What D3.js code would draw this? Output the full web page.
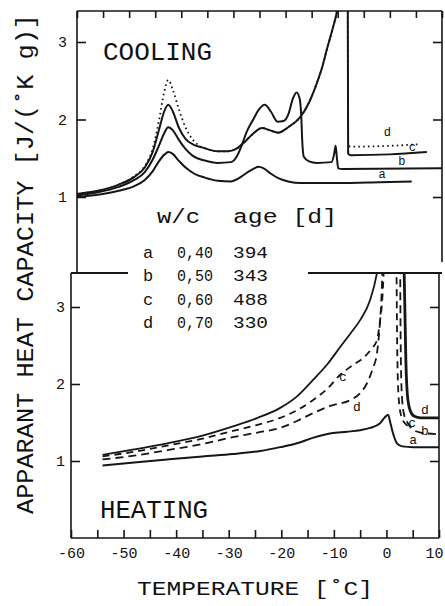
<!DOCTYPE html>
<html>
<head>
<meta charset="utf-8">
<script src="https://cdn.jsdelivr.net/npm/d3@7"></script>
<style>
  html, body { margin: 0; padding: 0; background: #fff; }
  svg { display: block; }
  text { fill: #111; }
</style>
</head>
<body>
<svg id="chart" width="445" height="606"></svg>
<script>
// ---------------- DATA ----------------
// Temperature axis ticks
const xTickValues = [-60, -55, -50, -45, -40, -35, -30, -25, -20, -15, -10, -5, 0, 5, 10];
const xTickLabels = ["-60", "-50", "-40", "-30", "-20", "-10", "0", "10"];
const yTickValues = [1, 2, 3];

// COOLING curves: [temperature °C, apparent heat capacity J/(K g)]
const coolA = [[-60,1.00],[-56,1.03],[-52,1.08],[-49,1.14],[-47,1.22],[-45.5,1.33],[-44.3,1.46],[-43.2,1.55],[-42.5,1.58],[-41.7,1.56],[-40.5,1.47],[-39,1.37],[-37.5,1.30],[-35.5,1.25],[-33,1.21],[-30.5,1.20],[-29,1.24],[-27.5,1.31],[-26,1.37],[-25.2,1.39],[-24.2,1.37],[-22.8,1.30],[-21.3,1.24],[-19.5,1.20],[-17,1.18],[-10,1.18],[-2,1.19],[4.2,1.20]];
const coolB = [[-60,1.02],[-56,1.06],[-52,1.13],[-49,1.22],[-47,1.32],[-45.5,1.48],[-44.3,1.66],[-43.3,1.82],[-42.5,1.90],[-41.6,1.86],[-40.5,1.74],[-39.2,1.62],[-37.8,1.53],[-35.5,1.47],[-33,1.44],[-30.5,1.45],[-29.3,1.53],[-28.4,1.67],[-27.4,1.85],[-26.2,2.00],[-25.2,2.12],[-24,2.19],[-22.8,2.10],[-21.5,1.97],[-20.4,1.98],[-19.4,2.08],[-18.6,2.27],[-17.9,2.35],[-17.3,2.27],[-17.0,2.05],[-16.8,1.72],[-16.5,1.52],[-15.5,1.46],[-14,1.44],[-11.2,1.45],[-10.7,1.55],[-10.4,1.66],[-10.15,1.50],[-9.9,1.37],[-9,1.36],[10,1.37]];
const coolC = [[-60,1.04],[-56,1.08],[-52,1.16],[-49,1.26],[-47,1.38],[-45.5,1.58],[-44.3,1.86],[-43.3,2.10],[-42.5,2.19],[-41.6,2.10],[-40.5,1.90],[-39.2,1.75],[-37.8,1.68],[-36,1.64],[-33,1.59],[-31,1.59],[-29.5,1.62],[-28,1.70],[-26.5,1.80],[-24.5,1.89],[-23,1.86],[-21.4,1.83],[-19.5,1.90],[-17.2,2.03],[-15.5,2.22],[-14,2.47],[-13,2.67],[-12.1,2.90],[-10.9,3.19],[-10.1,3.41],[-9.3,3.80],[-8.1,4.30],[-8.0,1.56],[-7.5,1.54],[0,1.55],[7.1,1.58]];
const coolD = [[-60,1.04],[-56,1.08],[-52,1.16],[-49,1.27],[-47,1.40],[-45.5,1.62],[-44.3,1.98],[-43.3,2.35],[-42.5,2.51],[-41.6,2.38],[-40.5,2.14],[-39.2,1.90],[-37.8,1.74],[-36.5,1.66],[-35,1.62],[-33,1.59],[-31,1.59],[-29.5,1.62],[-28,1.70],[-26.5,1.80],[-24.5,1.89],[-23,1.86],[-21.4,1.83],[-19.5,1.90],[-17.2,2.03],[-15.5,2.22],[-14,2.47],[-13,2.67],[-12.1,2.90],[-10.9,3.19],[-10.1,3.41],[-9.3,3.80],[-8.1,4.30],[-8.0,1.66],[-7.5,1.65],[0,1.66],[5.4,1.68]];

// HEATING curves (left branch up to melting peak, right branch after it)
const heatSolidUpper  = [[-54,1.08],[-48,1.15],[-41.7,1.23],[-35,1.33],[-29.2,1.45],[-24.5,1.56],[-20.2,1.69],[-17,1.84],[-14,2.05],[-11.2,2.26],[-8.8,2.48],[-6.8,2.66],[-5,2.83],[-3.1,3.09],[-1.8,3.44],[-1.2,3.70]];
const heatSolidUpperR = [[3.3,3.70],[3.5,3.00],[3.7,2.30],[4.0,1.85],[4.5,1.66],[5.3,1.58],[6.5,1.56],[10,1.56]];
const heatDashC  = [[-54,1.06],[-48,1.12],[-41.7,1.20],[-35,1.29],[-29.2,1.39],[-24.5,1.47],[-20.2,1.56],[-17,1.66],[-14,1.79],[-11.2,1.94],[-8.8,2.12],[-6.5,2.24],[-4.4,2.34],[-2.8,2.46],[-1.8,2.57],[-1.2,2.83],[-0.8,3.09],[-0.5,3.50],[-0.4,3.70]];
const heatDashCR = [[1.9,3.70],[2.0,2.80],[2.2,2.00],[2.5,1.70],[3.0,1.55],[3.8,1.47],[4.6,1.43]];
const heatDashD  = [[-54,1.02],[-48,1.07],[-41.7,1.14],[-35,1.22],[-29.2,1.31],[-24.5,1.37],[-20.2,1.43],[-17,1.52],[-14,1.62],[-10.5,1.72],[-6.9,1.79],[-5,1.88],[-3.7,2.01],[-2.6,2.20],[-1.8,2.40],[-1.2,2.83],[-0.9,3.20],[-0.7,3.70]];
const heatDashDR = [[2.6,3.70],[2.7,2.60],[2.9,1.90],[3.3,1.62],[4.0,1.50],[5.0,1.41],[6.5,1.37],[9.5,1.35]];
const heatSolidA = [[-54,0.94],[-48,0.98],[-41.7,1.02],[-35,1.06],[-29.2,1.09],[-24,1.13],[-20.2,1.18],[-17,1.23],[-14,1.30],[-10.5,1.36],[-7.5,1.38],[-5,1.40],[-3.1,1.43],[-1.2,1.49],[-0.4,1.56],[0.3,1.60],[0.8,1.48],[1.25,1.36],[2.0,1.23],[3.0,1.19],[5.1,1.18],[10,1.18]];

// Legend table
const legendLetters = ["a", "b", "c", "d"];
const legendWC = ["0,40", "0,50", "0,60", "0,70"];
const legendAge = ["394", "343", "488", "330"];

// Curve labels [T, value, letter]
const coolLabels = [[-0.5,1.83,"d"],[4.3,1.63,"c"],[2.3,1.45,"b"],[-1.5,1.28,"a"]];
const heatLabels = [[-8.3,2.08,"c"],[-5.6,1.70,"d"],[7.3,1.66,"d"],[4.9,1.49,"c"],[7.3,1.38,"b"],[5.1,1.27,"a"]];

// ---------------- DRAW ----------------
const svg = d3.select("#chart");
const ink = "#161616";
const mono = "'Liberation Mono', 'DejaVu Sans Mono', monospace";

const xTop = d3.scaleLinear().domain([-60, 10]).range([77, 442]);
const xBot = d3.scaleLinear().domain([-60, 10]).range([71, 439]);
const yTop = d3.scaleLinear().domain([1, 3]).range([197, 42]);
const yBot = d3.scaleLinear().domain([0, 3]).range([538, 307]);

const topY = 11, sepY = 273, botY = 538;

// clip paths
const defs = svg.append("defs");
defs.append("clipPath").attr("id", "clipTop").append("rect")
  .attr("x", xTop(-60)).attr("y", topY).attr("width", xTop(10) - xTop(-60)).attr("height", sepY - topY);
defs.append("clipPath").attr("id", "clipBot").append("rect")
  .attr("x", xBot(-60)).attr("y", sepY).attr("width", xBot(10) - xBot(-60)).attr("height", botY - sepY);

// frame lines
const frame = svg.append("g").attr("stroke", ink).attr("stroke-width", 1.6).attr("fill", "none");
frame.append("line").attr("x1", xTop(-60)).attr("x2", xTop(10)).attr("y1", topY).attr("y2", topY);
frame.append("line").attr("x1", xTop(-60)).attr("x2", xTop(-60)).attr("y1", topY).attr("y2", sepY);
frame.append("line").attr("x1", xTop(10)).attr("x2", xTop(10)).attr("y1", topY).attr("y2", 262);
frame.append("line").attr("x1", xBot(-60)).attr("x2", xBot(-60)).attr("y1", sepY).attr("y2", botY);
frame.append("line").attr("x1", xBot(-60)).attr("x2", xBot(10)).attr("y1", botY).attr("y2", botY);
frame.append("line").attr("x1", xBot(10)).attr("x2", xBot(10)).attr("y1", sepY).attr("y2", botY);
// separator broken around legend
frame.append("line").attr("x1", xBot(-60)).attr("x2", 128).attr("y1", sepY).attr("y2", sepY).attr("stroke-width", 2);
frame.append("line").attr("x1", 308).attr("x2", xTop(10)).attr("y1", sepY).attr("y2", sepY).attr("stroke-width", 2);

function styleAxis(g) {
  g.select(".domain").remove();
  g.selectAll(".tick line").attr("stroke", ink).attr("stroke-width", 1.6);
  g.selectAll(".tick text").attr("font-family", mono).attr("font-size", 15).attr("fill", ink);
}

// top ticks (cooling panel)
svg.append("g").attr("transform", `translate(0,${topY})`)
  .call(d3.axisTop(xTop).tickValues(xTickValues).tickSize(-7).tickFormat(""))
  .call(styleAxis);
// bottom axis
const bottomAxis = svg.append("g").attr("transform", `translate(0,${botY})`)
  .call(d3.axisBottom(xBot).tickValues(xTickValues).tickSize(-8).tickPadding(9)
    .tickFormat(d => xTickLabels.includes(String(d)) ? String(d) : ""))
  .call(styleAxis);
// keep the last label ("10") inside the window
bottomAxis.selectAll(".tick").filter(d => d === 10).select("text")
  .attr("text-anchor", "end").attr("dx", 4);
// left / right axes
svg.append("g").attr("transform", `translate(${xTop(-60)},0)`)
  .call(d3.axisLeft(yTop).tickValues(yTickValues).tickSize(-9).tickPadding(10).tickFormat(d3.format("d")))
  .call(styleAxis);
svg.append("g").attr("transform", `translate(${xTop(10)},0)`)
  .call(d3.axisRight(yTop).tickValues(yTickValues).tickSize(-9).tickFormat(""))
  .call(styleAxis);
svg.append("g").attr("transform", `translate(${xBot(-60)},0)`)
  .call(d3.axisLeft(yBot).tickValues(yTickValues).tickSize(-9).tickPadding(6).tickFormat(d3.format("d")))
  .call(styleAxis);
svg.append("g").attr("transform", `translate(${xBot(10)},0)`)
  .call(d3.axisRight(yBot).tickValues(yTickValues).tickSize(-9).tickFormat(""))
  .call(styleAxis);

// curves
const lineTop = d3.line().x(d => xTop(d[0])).y(d => yTop(d[1])).curve(d3.curveMonotoneX);
const lineBot = d3.line().x(d => xBot(d[0])).y(d => yBot(d[1])).curve(d3.curveMonotoneX);

const gTop = svg.append("g").attr("clip-path", "url(#clipTop)").attr("fill", "none").attr("stroke", ink);
gTop.append("path").attr("d", lineTop(coolA)).attr("stroke-width", 2);
gTop.append("path").attr("d", lineTop(coolB)).attr("stroke-width", 2);
gTop.append("path").attr("d", lineTop(coolC)).attr("stroke-width", 2);
gTop.append("path").attr("d", lineTop(coolD)).attr("stroke-width", 1.8)
  .attr("stroke-dasharray", "1.6,3.2");

const gBot = svg.append("g").attr("clip-path", "url(#clipBot)").attr("fill", "none").attr("stroke", ink);
gBot.append("path").attr("d", lineBot(heatSolidUpper)).attr("stroke-width", 1.8);
gBot.append("path").attr("d", lineBot(heatSolidUpperR)).attr("stroke-width", 2.8);
gBot.append("path").attr("d", lineBot(heatDashC)).attr("stroke-width", 1.8).attr("stroke-dasharray", "7,5");
gBot.append("path").attr("d", lineBot(heatDashCR)).attr("stroke-width", 1.8).attr("stroke-dasharray", "7,5");
gBot.append("path").attr("d", lineBot(heatDashD)).attr("stroke-width", 1.8).attr("stroke-dasharray", "8,5");
gBot.append("path").attr("d", lineBot(heatDashDR)).attr("stroke-width", 1.8).attr("stroke-dasharray", "8,5");
gBot.append("path").attr("d", lineBot(heatSolidA)).attr("stroke-width", 2);

// curve letter labels
svg.append("g").selectAll("text").data(coolLabels).join("text")
  .attr("x", d => xTop(d[0])).attr("y", d => yTop(d[1]))
  .attr("text-anchor", "middle").attr("dominant-baseline", "middle")
  .attr("font-family", mono).attr("font-size", 12)
  .text(d => d[2]);
svg.append("g").selectAll("text").data(heatLabels).join("text")
  .attr("x", d => xBot(d[0])).attr("y", d => yBot(d[1]))
  .attr("text-anchor", "middle").attr("dominant-baseline", "middle")
  .attr("font-family", mono).attr("font-size", 13)
  .text(d => d[2]);

// panel titles
svg.append("text").attr("x", 103).attr("y", 60).attr("font-family", mono).attr("font-size", 26)
  .attr("textLength", 109).attr("lengthAdjust", "spacingAndGlyphs").text("COOLING");
svg.append("text").attr("x", 100).attr("y", 518).attr("font-family", mono).attr("font-size", 26)
  .attr("textLength", 108).attr("lengthAdjust", "spacingAndGlyphs").text("HEATING");

// axis titles
svg.append("text").attr("x", 137).attr("y", 595).attr("font-family", mono).attr("font-size", 20)
  .attr("textLength", 236).attr("lengthAdjust", "spacingAndGlyphs").text("TEMPERATURE [˚C]");
svg.append("text").attr("transform", "translate(33,264) rotate(-90)")
  .attr("text-anchor", "middle").attr("font-family", mono).attr("font-size", 24)
  .attr("textLength", 500).attr("lengthAdjust", "spacingAndGlyphs")
  .text("APPARANT HEAT CAPACITY [J/(˚K g)]");

// legend table
const leg = svg.append("g").attr("font-family", mono).attr("fill", ink);
leg.append("text").attr("x", 157).attr("y", 223).attr("font-size", 20)
  .attr("textLength", 43).attr("lengthAdjust", "spacingAndGlyphs").text("w/c");
leg.append("text").attr("x", 233).attr("y", 223).attr("font-size", 20)
  .attr("textLength", 104).attr("lengthAdjust", "spacingAndGlyphs").text("age [d]");
const rowY = d3.scalePoint().domain(legendLetters).range([258, 328]);
legendLetters.forEach((l, i) => {
  leg.append("text").attr("x", 148).attr("y", rowY(l)).attr("text-anchor", "middle")
    .attr("font-size", 17).text(l);
  leg.append("text").attr("x", 177).attr("y", rowY(l)).attr("font-size", 17)
    .attr("textLength", 36).attr("lengthAdjust", "spacingAndGlyphs").text(legendWC[i]);
  leg.append("text").attr("x", 233).attr("y", rowY(l)).attr("font-size", 17)
    .attr("textLength", 35).attr("lengthAdjust", "spacingAndGlyphs").text(legendAge[i]);
});
</script>
</body>
</html>
